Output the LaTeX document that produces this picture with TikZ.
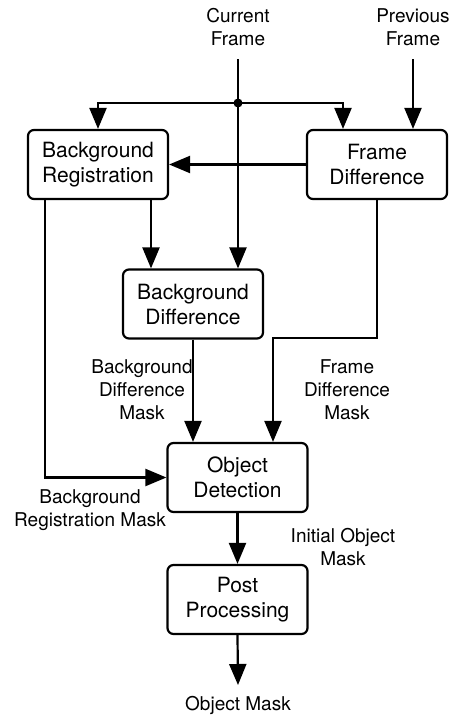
\documentclass[tikz,border=0pt]{standalone}
\usepackage{fontspec}
\setmainfont{TeX Gyre Heros}
\usetikzlibrary{arrows.meta,positioning}

\begin{document}
\begin{tikzpicture}[x=1pt,y=-1pt,line width=2.2pt,
    block/.style={draw,rounded corners=6pt,minimum width=140pt,minimum height=69pt,
        align=center,inner sep=0pt,font=\fontsize{21}{25}\selectfont},
    lbl/.style={align=center,inner sep=0pt,font=\fontsize{19}{23}\selectfont},
    arr/.style={-{Triangle[length=21pt,width=17pt]}}]
    \useasboundingbox (0,0) rectangle (456,715);

    \node[block] (bgreg) at (98,164.5) {Background\\Registration};
    \node[block] (frdiff) at (377,164.5) {Frame\\Difference};
    \node[block] (bgdiff) at (193,304) {Background\\Difference};
    \node[block] (objdet) at (237.5,477.5) {Object\\Detection};
    \node[block] (post) at (237.5,599.5) {Post\\Processing};

    \node[lbl] (curr) at (238,27) {Current\\Frame};
    \node[lbl] (prev) at (413,27) {Previous\\Frame};
    \node[lbl] (bdmask) at (142,390) {Background\\Difference\\Mask};
    \node[lbl] (fdmask) at (347,390) {Frame\\Difference\\Mask};
    \node[lbl] (brmask) at (90,510) {Background\\Registration Mask};
    \node[lbl] (initmask) at (343,547) {Initial Object\\Mask};
    \node[lbl] (outmask) at (238,705) {Object Mask};

    \coordinate (currtop) at (238,59);
    \coordinate (prevtop) at (413,59);
    \coordinate (split) at (238,103);
    \coordinate (fdbend) at (273,338);
    \coordinate (outend) at (238,685);

    \draw[arr] (currtop) -- (currtop |- bgdiff.north);
    \fill (split) circle (4.5pt);
    \draw[arr] (split) -| (bgreg.north);
    \draw[arr] (split) -| ([xshift=-34pt]frdiff.north);
    \draw[arr] (prevtop) -- (prevtop |- frdiff.north);
    \draw[arr] (frdiff.west) -- (bgreg.east);

    \draw[arr] ([xshift=53pt]bgreg.south) -- ([xshift=53pt]bgreg.south |- bgdiff.north);
    \draw[arr] ([xshift=-53pt]bgreg.south) |- (objdet.west);
    \draw[arr] (bgdiff.south) -- (bgdiff.south |- objdet.north);
    \draw[arr] (frdiff.south) |- (fdbend) -- (fdbend |- objdet.north);
    \draw[arr] (objdet.south) -- (post.north);
    \draw[arr] (post.south) -- (outend);
\end{tikzpicture}
\end{document}
